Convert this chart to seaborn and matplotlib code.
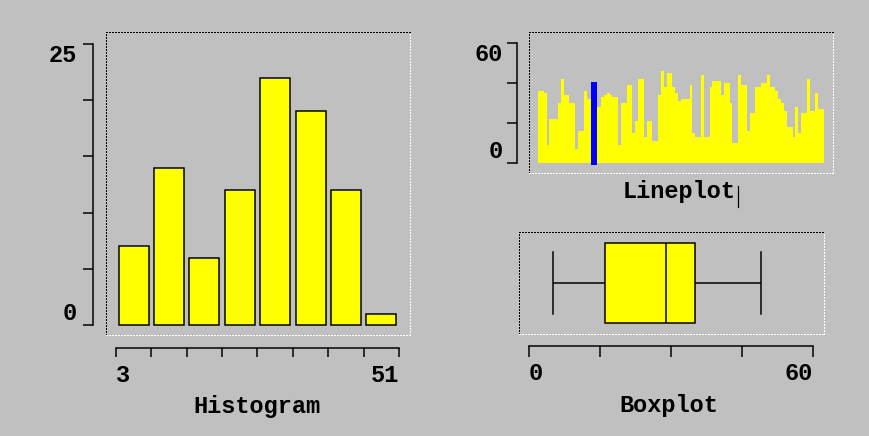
import numpy as np
import pandas as pd
import matplotlib
matplotlib.use("Agg")
import matplotlib.pyplot as plt
from matplotlib.lines import Line2D
import seaborn as sns

# ---------------- data ----------------
hist_edges = [3, 9, 15, 21, 27, 33, 39, 45, 51]
hist_counts = [7, 14, 6, 12, 22, 19, 12, 1]
hist_yticks = [0, 5, 10, 15, 20, 25]
hist_ylabels = ["0", "", "", "", "", "25"]
hist_xlabels = ["3", "", "", "", "", "", "", "", "51"]

line_values = [36, 36, 35, 9, 22, 22, 22, 30, 42, 34,
               34, 30, 30, 7, 16, 16, 36, 32, 32, 40,
               28, 28, 33, 34, 35, 34, 33, 33, 9, 30,
               30, 39, 39, 15, 21, 42, 42, 13, 21, 21,
               11, 11, 34, 46, 38, 45, 45, 38, 35, 31,
               32, 32, 32, 39, 15, 13, 13, 44, 13, 13,
               38, 41, 41, 41, 34, 40, 40, 30, 10, 10,
               44, 39, 39, 16, 25, 25, 38, 38, 40, 40,
               44, 38, 38, 36, 32, 30, 26, 18, 18, 13,
               28, 15, 25, 25, 42, 26, 26, 35, 27, 27]
highlight_index = 19
line_yticks = [0, 20, 40, 60]
line_ylabels = ["0", "", "", "60"]

box_summary = [5, 16, 29, 35, 49]   # low whisker, Q1, median, Q3, high whisker
box_xticks = [0, 15, 30, 45, 60]
box_xlabels = ["0", "", "", "", "60"]

# ---------------- style ----------------
BG = "#c0c0c0"
YELLOW = "#ffff00"
BLUE = "#0000ff"
FONT = "Liberation Mono"
FS = 17
PT = 0.72  # points per pixel at dpi 100

plt.rcParams.update({
    "font.family": [FONT, "DejaVu Sans Mono"],
    "font.weight": "bold",
    "axes.facecolor": BG,
    "figure.facecolor": BG,
    "savefig.facecolor": BG,
})

W, H = 870, 436
fig = plt.figure(figsize=(W / 100, H / 100), dpi=100)


def add_axes(x0, y0, x1, y1):
    return fig.add_axes([x0 / W, 1 - y1 / H, (x1 - x0) / W, (y1 - y0) / H])


def dotted_frame(ax):
    kw = dict(transform=ax.transAxes, clip_on=False, linewidth=1 * PT,
              linestyle=(0, (1.4, 1.4)), zorder=0.5, antialiased=False)
    ax.add_artist(Line2D([0, 1], [1, 1], color="black", **kw))
    ax.add_artist(Line2D([0, 0], [0, 1], color="black", **kw))
    ax.add_artist(Line2D([0, 1], [0, 0], color="white", **kw))
    ax.add_artist(Line2D([1, 1], [0, 1], color="white", **kw))


def base_style(ax):
    for s in ax.spines.values():
        s.set_visible(False)
    ax.set_xlabel("")
    ax.set_ylabel("")


ax_h = add_axes(106, 32, 410, 335)
ax_l = add_axes(529, 32, 833, 173)
ax_b = add_axes(519, 232, 824, 334)

# ---------------- histogram ----------------
centers = [(a + b) / 2 for a, b in zip(hist_edges[:-1], hist_edges[1:])]
sns.histplot(x=centers, weights=hist_counts, bins=hist_edges, shrink=0.85,
             color=YELLOW, alpha=1, edgecolor="black", linewidth=1.5 * PT,
             ax=ax_h)
base_style(ax_h)
ax_h.set_xlim(1.304, 52.866)
ax_h.set_ylim(-0.89, 26.07)
for side in ("left", "bottom"):
    sp = ax_h.spines[side]
    sp.set_visible(True)
    sp.set_position(("outward", 13 * PT))
    sp.set_linewidth(1.5 * PT)
ax_h.spines["left"].set_bounds(0, 25)
ax_h.spines["bottom"].set_bounds(3, 51)
ax_h.set_yticks(hist_yticks, hist_ylabels)
ax_h.set_xticks(hist_edges, hist_xlabels)
ax_h.tick_params(axis="y", direction="out", length=10 * PT, width=1.5 * PT,
                 pad=4.3, labelsize=FS)
ax_h.tick_params(axis="x", direction="out", length=9 * PT, width=1.5 * PT,
                 pad=5, labelsize=FS)
yl = ax_h.get_yticklabels()
yl[0].set_va("bottom")
yl[-1].set_va("top")
xl = ax_h.get_xticklabels()
xl[0].set_ha("left")
xl[-1].set_ha("right")
dotted_frame(ax_h)

# ---------------- lineplot (bars) ----------------
df_line = pd.DataFrame({"idx": np.arange(len(line_values)), "value": line_values})
palette = {i: (BLUE if i == highlight_index else YELLOW) for i in df_line["idx"]}
sns.barplot(data=df_line, x="idx", y="value", hue="idx", palette=palette,
            legend=False, width=1, saturation=1, linewidth=0,
            errorbar=None, ax=ax_l)
for p in ax_l.patches:
    p.set_antialiased(False)
    fc = p.get_facecolor()
    if fc[0] < 0.1 and fc[2] > 0.9:
        p.set_edgecolor(BLUE)
        p.set_linewidth(2.8 * PT)
        p.set_zorder(3)
base_style(ax_l)
ax_l.set_xlim(-3.647, 102.647)
ax_l.set_ylim(-4.83, 65.32)
ax_l.tick_params(axis="x", bottom=False, labelbottom=False)
sp = ax_l.spines["left"]
sp.set_visible(True)
sp.set_position(("outward", 12 * PT))
sp.set_linewidth(1.5 * PT)
sp.set_bounds(0, 60)
ax_l.set_yticks(line_yticks, line_ylabels)
ax_l.tick_params(axis="y", direction="out", length=10.5 * PT, width=1.5 * PT,
                 pad=3, labelsize=FS)
yl = ax_l.get_yticklabels()
yl[0].set_va("bottom")
yl[-1].set_va("top")
dotted_frame(ax_l)

# ---------------- boxplot ----------------
sns.boxplot(x=box_summary, orient="h", width=0.794, color=YELLOW,
            saturation=1, linecolor="black", linewidth=1.5 * PT,
            capwidths=0.6, ax=ax_b)
base_style(ax_b)
ax_b.set_xlim(-2.11, 62.32)
ax_b.set_ylim(0.5, -0.5)
ax_b.tick_params(axis="y", left=False, labelleft=False)
sp = ax_b.spines["bottom"]
sp.set_visible(True)
sp.set_position(("outward", 11.7 * PT))
sp.set_linewidth(1.5 * PT)
sp.set_bounds(0, 60)
ax_b.set_xticks(box_xticks, box_xlabels)
ax_b.tick_params(axis="x", direction="out", length=11 * PT, width=1.5 * PT,
                 pad=3.6, labelsize=FS)
xl = ax_b.get_xticklabels()
xl[0].set_ha("left")
xl[-1].set_ha("right")
dotted_frame(ax_b)

# ---------------- captions ----------------
fig.text(257 / W, 1 - 413 / H, "Histogram", ha="center", va="baseline",
         fontsize=FS, fontweight="bold")
fig.text(679 / W, 1 - 198.3 / H, "Lineplot", ha="center", va="baseline",
         fontsize=FS, fontweight="bold")
fig.text(669 / W, 1 - 411.7 / H, "Boxplot", ha="center", va="baseline",
         fontsize=FS, fontweight="bold")
fig.add_artist(Line2D([737.7 / W, 737.7 / W], [1 - 185.7 / H, 1 - 206.7 / H],
                      color="black", linewidth=1.2 * PT,
                      transform=fig.transFigure))

fig.savefig("out.png", dpi=100)
